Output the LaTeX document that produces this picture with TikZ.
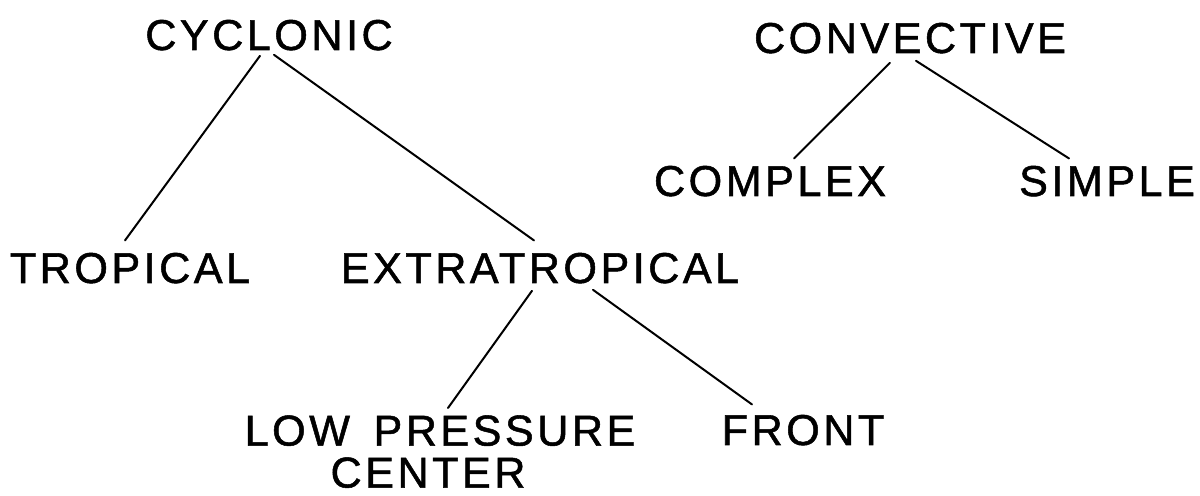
\documentclass[tikz,border=0pt]{standalone}
\usepackage{fontspec}
\setmainfont{Liberation Sans}[LetterSpace=8,FakeBold=1.2]
\usetikzlibrary{calc}
\begin{document}
\begin{tikzpicture}[x=0.5pt,y=-0.5pt,
  lbl/.style={font=\fontsize{21.6}{21}\selectfont,inner sep=0pt,anchor=base},
  link/.style={line width=1pt,line cap=round}]
\useasboundingbox(0,0)rectangle(1200,496);
\node[lbl](cyclonic)at(269,50){CYCLONIC};
\node[lbl](convective)at(910,53){CONVECTIVE};
\node[lbl](complex)at(770,196){COMPLEX};
\node[lbl](simple)at(1107,196){SIMPLE};
\node[lbl](tropical)at(130,283){TROPICAL};
\node[lbl](extra)at(540,283){EXTRATROPICAL};
\node[lbl,anchor=north,align=center](lowp)at(440,415){LOW\hspace{4pt} PRESSURE\\CENTER\hspace*{12pt}};
\node[lbl](front)at(803,445){FRONT};
\draw[link]($(cyclonic.south)+(-9,5)$)--($(tropical.north)+(-5,-12)$);
\draw[link]($(cyclonic.south)+(5,4)$)--($(extra.north)+(-6,-12)$);
\draw[link]($(extra.south)+(-8,7)$)--($(lowp.north)+(8,-7)$);
\draw[link]($(extra.south)+(53,6)$)--($(front.north)+(-51,-10)$);
\draw[link]($(convective.south)+(-20,9)$)--($(complex.north)+(24,-7)$);
\draw[link]($(convective.south)+(6,7)$)--($(simple.north)+(-38,-7)$);
\end{tikzpicture}
\end{document}
